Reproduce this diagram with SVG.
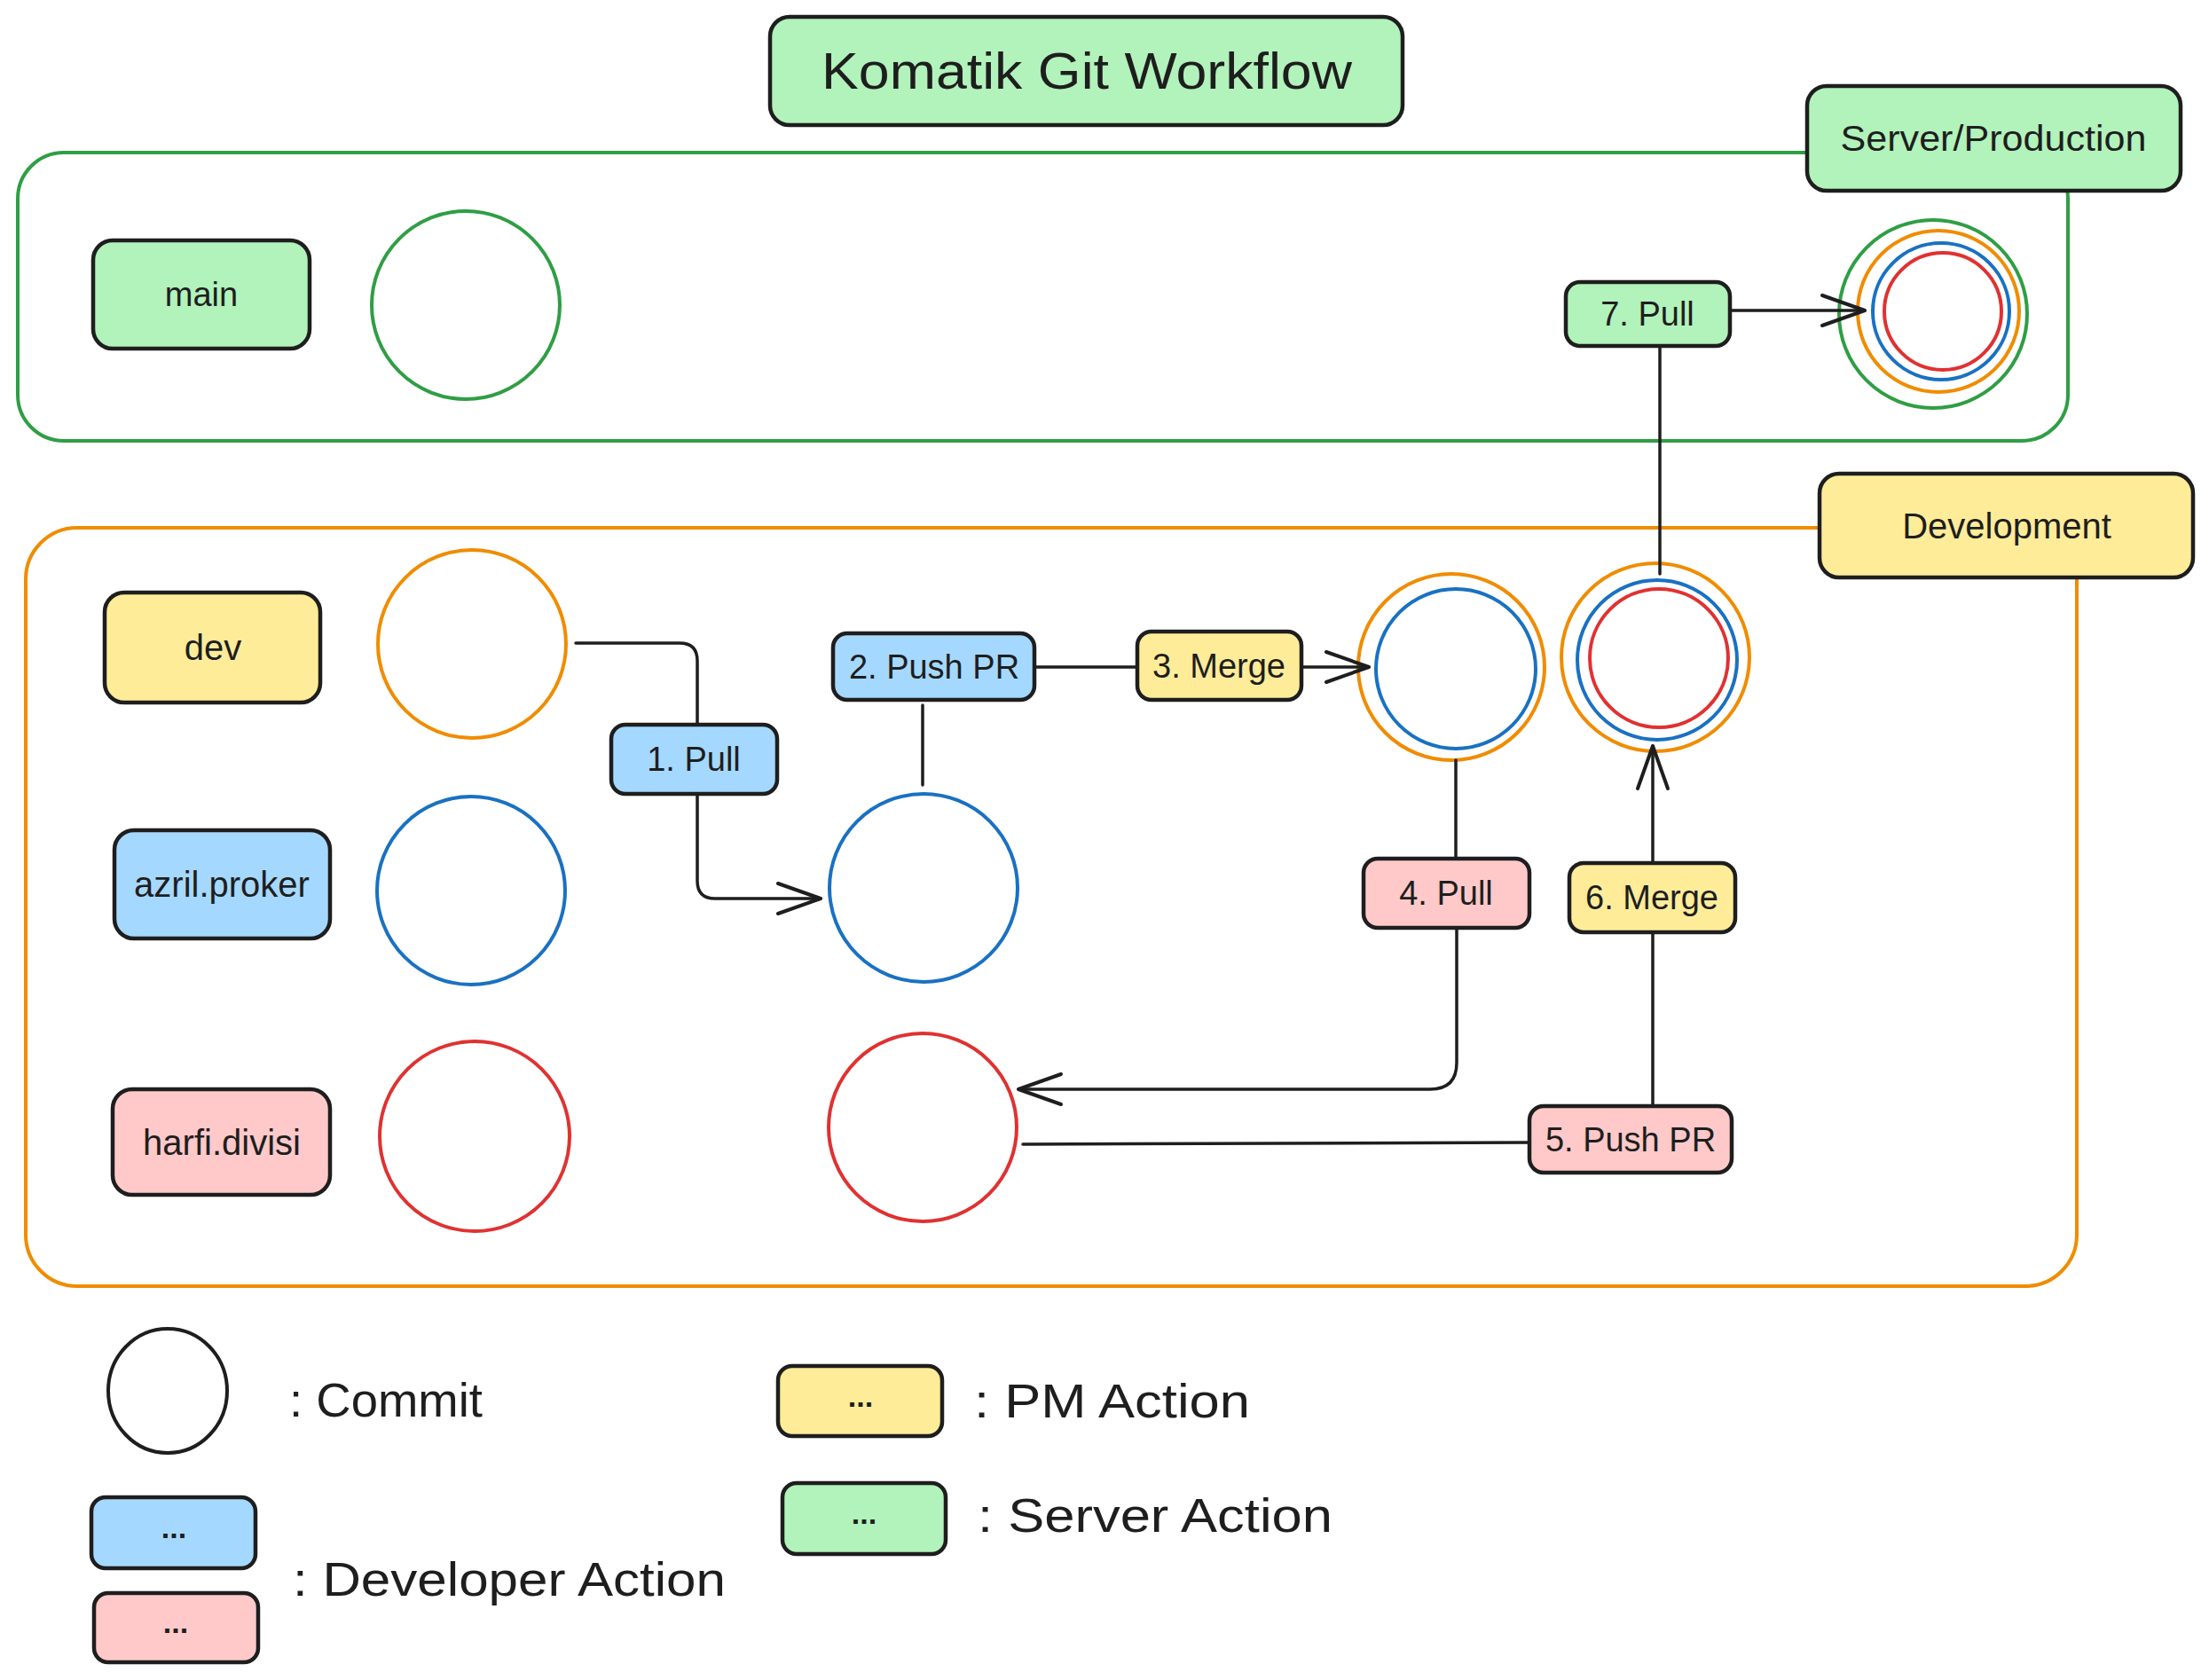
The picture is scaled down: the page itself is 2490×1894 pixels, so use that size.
<svg xmlns="http://www.w3.org/2000/svg" width="2490" height="1894" viewBox="0 0 2490 1894">
<defs>
<style>
.t{font-family:"Liberation Sans","Noto Sans",sans-serif;fill:#1e1e1e;text-anchor:middle;dominant-baseline:central}
.lg{font-family:"Liberation Sans","Noto Sans",sans-serif;fill:#1e1e1e;dominant-baseline:central;font-size:54px}
.dots{font-weight:bold;font-size:34px}
.box{stroke:#1e1e1e;stroke-width:4.5}
.g{fill:#b2f2bb}.y{fill:#ffec99}.b{fill:#a5d8ff}.p{fill:#ffc9c9}
.c{fill:#fff;stroke-width:4}
.cg{stroke:#2f9e44}.co{stroke:#f08c00}.cb{stroke:#1971c2}.cr{stroke:#e03131}.ck{stroke:#1e1e1e}
.con{fill:none;stroke:#1e1e1e;stroke-width:3.5;stroke-linecap:round;stroke-linejoin:round}
</style>
<marker id="arr" markerUnits="userSpaceOnUse" viewBox="-52 -22 56 44" refX="0" refY="0" markerWidth="56" markerHeight="44" orient="auto">
<path d="M-48,-17 L0,0 L-48,17" fill="none" stroke="#1e1e1e" stroke-width="4" stroke-linecap="round" stroke-linejoin="round"/>
</marker>
</defs>
<rect width="2490" height="1894" fill="#fff"/>

<g id="container-production">
<rect x="20" y="172" width="2311" height="325" rx="52" fill="none" stroke="#2f9e44" stroke-width="4"/>
</g>
<g id="container-development">
<rect x="29" y="595" width="2312" height="855" rx="58" fill="none" stroke="#f08c00" stroke-width="4"/>
</g>

<g id="title">
<rect class="box g" x="868" y="19" width="713" height="122" rx="22"/>
<text class="t" x="1225" y="80" font-size="57" textLength="598" lengthAdjust="spacingAndGlyphs">Komatik Git Workflow</text>
</g>
<g id="server-production">
<rect class="box g" x="2037" y="97" width="421" height="118" rx="22"/>
<text class="t" x="2247" y="156" font-size="40" textLength="345" lengthAdjust="spacingAndGlyphs">Server/Production</text>
</g>
<g id="development">
<rect class="box y" x="2051" y="534" width="421" height="117" rx="22"/>
<text class="t" x="2262" y="593" font-size="40">Development</text>
</g>

<g id="label-main">
<rect class="box g" x="105" y="271" width="244" height="122" rx="22"/>
<text class="t" x="227" y="332" font-size="38">main</text>
</g>
<g id="label-dev">
<rect class="box y" x="118" y="668" width="243" height="124" rx="22"/>
<text class="t" x="240" y="730" font-size="40">dev</text>
</g>
<g id="label-azril">
<rect class="box b" x="129" y="936" width="243" height="122" rx="22"/>
<text class="t" x="250" y="997" font-size="40">azril.proker</text>
</g>
<g id="label-harfi">
<rect class="box p" x="127" y="1228" width="245" height="119" rx="22"/>
<text class="t" x="250" y="1288" font-size="40">harfi.divisi</text>
</g>

<g id="commit-main-1"><circle class="c cg" cx="525" cy="344" r="106"/></g>
<g id="commit-main-2">
<circle class="c cg" cx="2179" cy="354" r="106"/>
<circle class="c co" cx="2185" cy="351" r="91"/>
<circle class="c cb" cx="2188" cy="351" r="77"/>
<circle class="c cr" cx="2190" cy="351" r="66"/>
</g>
<g id="commit-dev-1"><circle class="c co" cx="532" cy="726" r="106"/></g>
<g id="commit-dev-2">
<circle class="c co" cx="1636" cy="752" r="105"/>
<circle class="c cb" cx="1641" cy="754" r="90"/>
</g>
<g id="commit-dev-3">
<circle class="c co" cx="1866" cy="741" r="106"/>
<circle class="c cb" cx="1868" cy="744" r="90"/>
<circle class="c cr" cx="1870" cy="742" r="78"/>
</g>
<g id="commit-azril-1"><circle class="c cb" cx="531" cy="1004" r="106"/></g>
<g id="commit-azril-2"><circle class="c cb" cx="1041" cy="1001" r="106"/></g>
<g id="commit-harfi-1"><circle class="c cr" cx="535" cy="1281" r="107"/></g>
<g id="commit-harfi-2"><circle class="c cr" cx="1040" cy="1271" r="106"/></g>

<g id="connectors">
<path class="con" d="M649,725 L766,725 Q786,725 786,745 L786,818"/>
<path class="con" d="M786,895 L786,993 Q786,1013 806,1013 L925,1013" marker-end="url(#arr)"/>
<path class="con" d="M1040,885 L1040,795"/>
<path class="con" d="M1166,752 L1282,752"/>
<path class="con" d="M1467,752 L1543,752" marker-end="url(#arr)"/>
<path class="con" d="M1641,857 L1641,968"/>
<path class="con" d="M1642,1046 L1642,1198 Q1642,1228 1612,1228 L1148,1228" marker-end="url(#arr)"/>
<path class="con" d="M1153,1290 L1724,1288"/>
<path class="con" d="M1863,1247 L1863,1051"/>
<path class="con" d="M1863,973 L1863,841" marker-end="url(#arr)"/>
<path class="con" d="M1871,647 L1871,390"/>
<path class="con" d="M1950,350 L2102,350" marker-end="url(#arr)"/>
</g>

<g id="action-1-pull">
<rect class="box b" x="689" y="817" width="187" height="78" rx="16"/>
<text class="t" x="782" y="856" font-size="38">1. Pull</text>
</g>
<g id="action-2-push-pr">
<rect class="box b" x="939" y="714" width="227" height="75" rx="16"/>
<text class="t" x="1053" y="752" font-size="38">2. Push PR</text>
</g>
<g id="action-3-merge">
<rect class="box y" x="1282" y="712" width="185" height="77" rx="16"/>
<text class="t" x="1374" y="751" font-size="38">3. Merge</text>
</g>
<g id="action-4-pull">
<rect class="box p" x="1537" y="968" width="187" height="78" rx="16"/>
<text class="t" x="1630" y="1007" font-size="38">4. Pull</text>
</g>
<g id="action-5-push-pr">
<rect class="box p" x="1724" y="1247" width="228" height="75" rx="16"/>
<text class="t" x="1838" y="1285" font-size="38">5. Push PR</text>
</g>
<g id="action-6-merge">
<rect class="box y" x="1769" y="973" width="187" height="78" rx="16"/>
<text class="t" x="1862" y="1012" font-size="38">6. Merge</text>
</g>
<g id="action-7-pull">
<rect class="box g" x="1765" y="318" width="185" height="72" rx="16"/>
<text class="t" x="1857" y="354" font-size="38">7. Pull</text>
</g>

<g id="legend-commit">
<ellipse class="c ck" cx="189" cy="1568" rx="67" ry="70"/>
<text class="lg" x="326" y="1578" textLength="218" lengthAdjust="spacingAndGlyphs">: Commit</text>
</g>
<g id="legend-pm">
<rect class="box y" x="877" y="1540" width="185" height="79" rx="16"/>
<text class="t dots" x="970" y="1574">...</text>
<text class="lg" x="1098" y="1579" textLength="311" lengthAdjust="spacingAndGlyphs">: PM Action</text>
</g>
<g id="legend-server">
<rect class="box g" x="882" y="1672" width="184" height="80" rx="16"/>
<text class="t dots" x="974" y="1706">...</text>
<text class="lg" x="1102" y="1708" textLength="400" lengthAdjust="spacingAndGlyphs">: Server Action</text>
</g>
<g id="legend-developer">
<rect class="box b" x="103" y="1688" width="185" height="80" rx="16"/>
<text class="t dots" x="196" y="1722">...</text>
<rect class="box p" x="106" y="1796" width="185" height="78" rx="16"/>
<text class="t dots" x="198" y="1829">...</text>
<text class="lg" x="330" y="1780" textLength="488" lengthAdjust="spacingAndGlyphs">: Developer Action</text>
</g>
</svg>
